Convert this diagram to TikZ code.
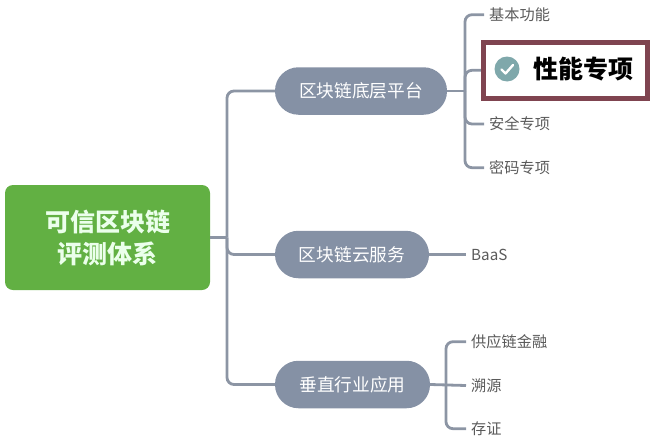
\documentclass[tikz,border=0pt]{standalone}
\usepackage{fontspec}
\setmainfont{Noto Sans CJK SC}
\definecolor{rootgreen}{HTML}{62B043}
\definecolor{branchgray}{HTML}{8591A5}
\definecolor{linegray}{HTML}{8C95A4}
\definecolor{leafgray}{HTML}{5A5A5A}
\definecolor{framered}{HTML}{7F4450}
\definecolor{tickteal}{HTML}{7FA8AB}

\begin{document}
\begin{tikzpicture}[
  x=1pt,y=-1pt,
  rootbox/.style={fill=rootgreen,rounded corners=8pt,minimum width=205pt,minimum height=105pt,
    align=center,font=\fontsize{25}{32}\selectfont\bfseries,text=white!92!green},
  branchbox/.style={fill=branchgray,text=white,rounded corners=23.5pt,minimum height=47.5pt,
    inner sep=0pt,font=\fontsize{17.7}{20}\selectfont},
  leaftext/.style={anchor=west,inner sep=0pt,text=leafgray,font=\fontsize{15.2}{18}\selectfont},
  wire/.style={draw=linegray,line width=2.8pt,rounded corners=7pt}
]
\useasboundingbox (0,0) rectangle (660,439);

\coordinate (trunk) at (227,237.5);
\coordinate (chainhub) at (465,91);
\coordinate (tradehub) at (446,385);

\node[rootbox] (root) at (107.5,237.5) {可信区块链\\评测体系};
\node[branchbox,minimum width=172pt] (chain) at (361,91) {区块链底层平台};
\node[branchbox,minimum width=154pt] (cloud) at (352,254.5) {区块链云服务};
\node[branchbox,minimum width=155pt] (trade) at (352.5,384.5) {垂直行业应用};

\node[leaftext] (basic) at (489,14.7) {基本功能};
\node[leaftext] (safe) at (489,124) {安全专项};
\node[leaftext] (crypto) at (489,167.7) {密码专项};
\node[leaftext] (baas) at (471,254.5) {BaaS};
\node[leaftext] (supply) at (471,341.7) {供应链金融};
\node[leaftext] (trace) at (471,385.5) {溯源};
\node[leaftext] (proof) at (471,428.7) {存证};

\draw[wire] (root.east) -- (trunk);
\foreach \to in {chain,cloud,trade}
  \draw[wire] (trunk) |- (\to.west);

\draw[wire] (chain.east) -- (chainhub);
\foreach \to in {basic,safe,crypto}
  \draw[wire] (chainhub) |- ([xshift=-5pt]\to.west);

\node[draw=framered,line width=4.8pt,fill=white,minimum width=164.5pt,minimum height=56pt,inner sep=0pt] (perf) at (565.5,70.3) {};
\draw[wire] (chainhub) |- (perf.west);
\node[circle,fill=tickteal,minimum size=25pt,inner sep=0pt] (tick) at (507,69) {};
\draw[white,line width=2.4pt,line cap=round,line join=round] ([shift={(-5.5,0.5)}]tick.center) -- ([shift={(-1.5,4.5)}]tick.center) -- ([shift={(6,-4)}]tick.center);
\node[anchor=west,inner sep=0pt,font=\fontsize{25}{30}\selectfont\bfseries] (perftext) at (533,69) {性能专项};

\draw[wire] (cloud.east) -- ([xshift=-5pt]baas.west);

\draw[wire] (trade.east) -- ([xshift=-5pt]trace.west);
\foreach \to in {supply,proof}
  \draw[wire] (tradehub) |- ([xshift=-5pt]\to.west);
\end{tikzpicture}
\end{document}
